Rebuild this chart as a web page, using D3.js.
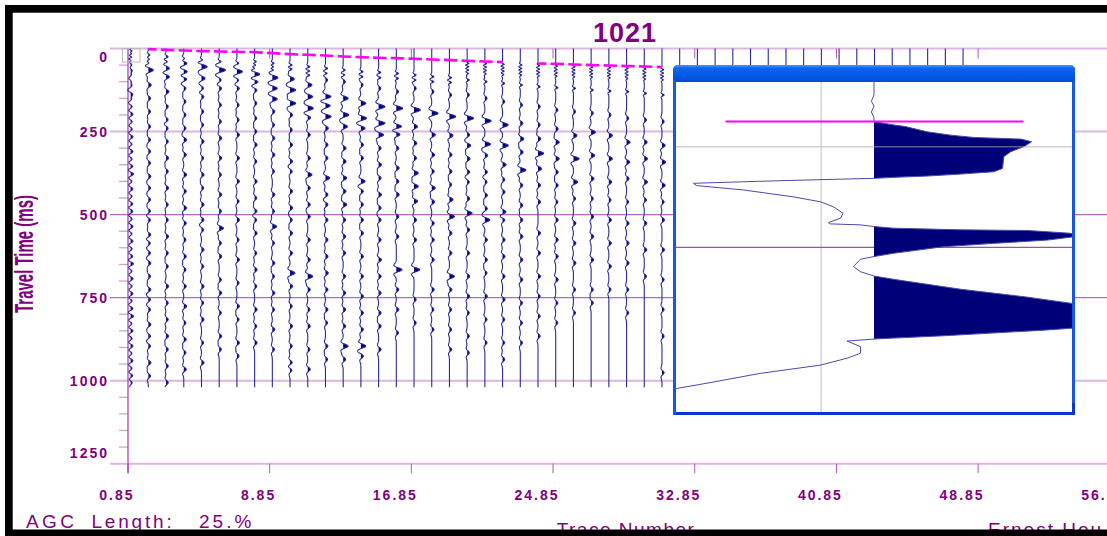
<!DOCTYPE html>
<html lang="en">
<head>
<meta charset="UTF-8">
<title>1021</title>
<style>
body {
  margin: 0;
  background: #fff;
}
svg text {
  font-family: 'Liberation Sans', Arial, sans-serif;
  fill: #800080;
}
.tick-label {
  font-size: 14px;
  font-weight: bold;
  letter-spacing: 2px;
}
.title {
  font-size: 27px;
  font-weight: bold;
  letter-spacing: 1px;
}
.axis-title {
  font-size: 15px;
  font-weight: bold;
}
.footer {
  font-size: 19px;
}
</style>
</head>
<body>
<svg id="chart" width="1107" height="536"></svg>

<script src="https://cdnjs.cloudflare.com/ajax/libs/d3/7.8.5/d3.min.js"></script>
<script>

// axis ticks
var timeTicks = [0, 250, 500, 750, 1000, 1250];
var traceTicks = [0.85, 8.85, 16.85, 24.85, 32.85, 40.85, 48.85, 56.85];
var traceCount = 48;
var traceEnd = 1020;

// first-break picks (ms) for traces 1..31, null = no pick
var pickTimes = [null, 2, 4, 6, 8, 9, 10, 11, 14, 17, 19, 21, 24, 26, 28, 29, 31, 33, 35, 37,
  39, 41, null, 45, 46, 48, 50, 51, 53, 54, 56];

// positive lobes: [time ms, amplitude, optional width]
var traceLobes = [
  [[8,0.3,0.5],[16,0.3,0.5],[26,0.3,0.5],[36,0.3,0.5],[50,0.4],[66,0.6],[80,0.5],[98,0.4],[112,0.4],[138,0.5],[152,0.4],[175,0.3],[198,0.4],[220,0.3],[243,0.3],[266,0.4],[288,0.3],[310,0.4],[333,0.3],[355,0.4],[378,0.5],[400,0.3],[423,0.4],[445,0.3],[468,0.4],[490,0.4],[513,0.3],[536,0.4],[558,0.3],[580,0.4],[603,0.3],[626,0.4],[648,0.5],[670,0.3],[693,0.4],[716,0.3],[738,0.4],[760,0.3],[783,0.4],[806,0.5],[828,0.3],[850,0.4],[873,0.3],[896,0.4],[918,0.3],[940,0.4],[963,0.3],[985,0.4],[1005,0.3]],
  [[20,0.25,0.6],[32,0.25,0.6],[44,0.25,0.6],[65,0.7],[110,0.4],[150,0.3],[190,0.3],[235,0.3],[275,0.3],[310,0.3],[345,0.3],[385,0.35],[420,0.3],[455,0.3],[490,0.3],[516,0.3],[561,0.35],[586,0.3],[616,0.3],[646,0.35],[686,0.3],[726,0.35],[756,0.3],[786,0.3],[831,0.35],[866,0.3],[896,0.3],[946,0.35],[986,0.3]],
  [[25,0.3,0.6],[40,0.3,0.6],[60,0.5],[85,0.5],[130,0.4],[175,0.3],[215,0.3],[240,0.3],[280,0.3],[330,0.35],[370,0.3],[420,0.35],[470,0.3],[516,0.3],[566,0.35],[616,0.3],[656,0.3],[716,0.35],[766,0.3],[816,0.3],[866,0.35],[906,0.3],[956,0.3],[1006,0.3]],
  [[30,0.3,0.6],[45,0.5],[70,0.6],[92,0.5],[120,0.3],[160,0.3],[200,0.3],[240,0.3],[275,0.4],[320,0.35],[380,0.4],[430,0.35],[480,0.4],[526,0.35],[576,0.3],[626,0.35],[666,0.3],[716,0.35],[776,0.4],[826,0.3],[876,0.35],[916,0.3],[966,0.35]],
  [[35,0.3,0.6],[55,0.8],[90,0.5],[120,0.3],[145,0.35],[190,0.3],[230,0.3],[280,0.35],[330,0.3],[380,0.35],[420,0.3],[470,0.35],[516,0.35],[546,0.3],[606,0.35],[656,0.3],[716,0.35],[766,0.3],[816,0.35],[886,0.3],[946,0.35]],
  [[40,0.3,0.6],[65,0.9],[95,0.3],[120,0.35],[170,0.3],[220,0.3],[270,0.35],[330,0.35],[380,0.3],[440,0.35],[490,0.3],[541,0.6],[586,0.3],[626,0.35],[696,0.3],[736,0.35],[796,0.3],[866,0.35],[906,0.3]],
  [[45,0.3,0.6],[70,0.8],[95,0.3],[120,0.35],[170,0.3],[215,0.3],[260,0.35],[330,0.35],[400,0.35],[460,0.3],[516,0.35],[576,0.3],[636,0.35],[706,0.3],[776,0.35],[816,0.3],[886,0.35],[926,0.3]],
  [[40,0.3,0.5],[50,0.3,0.5],[60,0.3,0.5],[78,0.8],[100,0.6],[125,0.35],[165,0.3],[210,0.3],[250,0.3],[290,0.35],[340,0.3],[400,0.35],[450,0.3],[490,0.35],[516,0.3],[556,0.35],[616,0.3],[666,0.35],[716,0.3],[786,0.35],[836,0.3],[886,0.35]],
  [[45,0.3,0.5],[55,0.3,0.5],[65,0.3,0.5],[88,0.8],[120,0.7],[152,0.7],[190,0.35],[230,0.3],[270,0.35],[320,0.35],[370,0.3],[440,0.35],[490,0.3],[536,0.6],[586,0.3],[646,0.35],[686,0.3],[736,0.35],[786,0.3],[846,0.35],[906,0.3]],
  [[50,0.3,0.5],[62,0.3,0.5],[92,0.6],[125,0.8],[165,0.8],[200,0.35],[245,0.3],[290,0.35],[340,0.35],[370,0.3],[430,0.35],[480,0.35],[516,0.3],[556,0.35],[616,0.35],[676,0.7],[716,0.35],[776,0.3],[836,0.35],[896,0.3],[946,0.35],[968,0.3]],
  [[55,0.3,0.5],[68,0.3,0.5],[80,0.3,0.5],[110,0.6],[145,0.7],[180,0.8],[208,0.4],[260,0.35],[330,0.35],[380,0.6],[420,0.35],[470,0.35],[506,0.35],[576,0.35],[636,0.35],[686,0.7],[726,0.35],[786,0.3],[836,0.35],[906,0.3],[966,0.35]],
  [[60,0.3,0.5],[75,0.3,0.5],[95,0.3],[145,0.8],[172,0.7],[205,0.8],[240,0.4],[290,0.35],[330,0.35],[390,0.6],[440,0.35],[470,0.35],[516,0.35],[576,0.35],[626,0.35],[676,0.4],[726,0.35],[786,0.35],[826,0.3],[896,0.35],[936,0.3]],
  [[65,0.3,0.5],[80,0.3,0.5],[100,0.3],[150,0.7],[200,0.8],[235,0.6],[300,0.4],[340,0.4],[390,0.5],[430,0.4],[470,0.5],[516,0.35],[566,0.35],[616,0.35],[686,0.35],[736,0.35],[786,0.35],[836,0.35],[896,0.7],[936,0.35]],
  [[70,0.3,0.5],[85,0.3,0.5],[110,0.3],[165,0.7],[210,0.8],[240,0.6],[290,0.35],[330,0.35],[400,0.6],[430,0.35],[470,0.35],[516,0.35],[556,0.35],[626,0.35],[686,0.35],[746,0.35],[796,0.35],[846,0.35],[896,0.7],[926,0.35]],
  [[72,0.3,0.5],[88,0.3,0.5],[120,0.3],[175,0.9],[225,0.9],[260,0.7],[300,0.35],[350,0.4],[390,0.35],[440,0.4],[480,0.35],[516,0.35],[576,0.35],[636,0.4],[686,0.35],[736,0.35],[796,0.35],[836,0.35],[906,0.35]],
  [[75,0.3,0.5],[90,0.3,0.5],[130,0.3],[180,0.9],[235,0.8],[258,0.6],[300,0.35],[360,0.4],[400,0.35],[440,0.4],[506,0.35],[566,0.35],[666,0.8],[726,0.35],[786,0.35],[856,0.3]],
  [[80,0.3,0.5],[95,0.3,0.5],[120,0.3],[185,0.9],[235,0.5],[285,0.4],[330,0.35],[375,0.6],[415,0.6],[460,0.5],[516,0.35],[576,0.35],[666,0.8],[756,0.3],[826,0.3]],
  [[85,0.3,0.5],[100,0.3,0.5],[130,0.3],[195,0.9],[260,0.5],[320,0.4],[370,0.35],[420,0.5],[462,0.4],[526,0.35],[576,0.35],[636,0.35],[726,0.35],[786,0.3],[846,0.3]],
  [[88,0.3,0.5],[102,0.3,0.5],[140,0.3],[205,0.9],[262,0.5],[320,0.35],[370,0.35],[410,0.3],[455,0.5],[506,0.7],[556,0.35],[616,0.35],[686,0.7],[726,0.35],[786,0.3],[846,0.3],[906,0.3]],
  [[45,0.25,0.4],[55,0.25,0.4],[65,0.25,0.4],[75,0.2,0.4],[95,0.3,0.5],[140,0.3],[210,0.9],[260,0.35],[292,0.5],[332,0.4],[372,0.35],[402,0.3],[452,0.35],[496,0.7],[546,0.35],[616,0.35],[686,0.35],[746,0.35],[796,0.3],[866,0.3],[916,0.3]],
  [[46,0.25,0.4],[56,0.25,0.4],[66,0.25,0.4],[76,0.2,0.4],[100,0.3,0.5],[150,0.3],[218,0.9],[288,0.8],[322,0.4],[372,0.35],[402,0.3],[442,0.35],[482,0.35],[516,0.7],[576,0.35],[636,0.35],[676,0.3],[746,0.35],[816,0.3],[886,0.3]],
  [[48,0.25,0.4],[58,0.25,0.4],[68,0.25,0.4],[78,0.2,0.4],[105,0.3,0.5],[160,0.3],[230,0.8],[292,0.8],[350,0.5],[395,0.3],[432,0.35],[492,0.5],[516,0.35],[576,0.35],[626,0.35],[686,0.35],[756,0.35],[816,0.3],[886,0.3],[936,0.3]],
  [[50,0.25,0.4],[60,0.25,0.4],[70,0.25,0.4],[80,0.2,0.4],[110,0.3,0.5],[170,0.3],[225,0.35],[272,0.5],[312,0.4],[366,0.8],[412,0.35],[472,0.35],[516,0.35],[566,0.35],[636,0.35],[696,0.35],[766,0.3],[826,0.3],[886,0.3]],
  [[52,0.25,0.4],[62,0.25,0.4],[72,0.25,0.4],[82,0.2,0.4],[115,0.3,0.5],[175,0.3],[230,0.3],[272,0.4],[316,0.8],[362,0.5],[412,0.35],[462,0.35],[556,0.35],[616,0.35],[686,0.35],[746,0.3],[806,0.3],[866,0.3]],
  [[53,0.25,0.4],[63,0.25,0.4],[73,0.25,0.4],[83,0.2,0.4],[118,0.3,0.5],[185,0.3],[242,0.35],[282,0.5],[332,0.5],[372,0.35],[412,0.35],[462,0.3],[516,0.35],[576,0.35],[626,0.35],[696,0.35],[766,0.3],[826,0.3]],
  [[55,0.25,0.4],[65,0.25,0.4],[75,0.25,0.4],[85,0.2,0.4],[120,0.3,0.5],[190,0.3],[262,0.5],[332,0.8],[402,0.6],[452,0.3],[526,0.35],[586,0.35],[646,0.35],[726,0.3],[796,0.3]],
  [[56,0.25,0.4],[66,0.25,0.4],[76,0.25,0.4],[86,0.2,0.4],[125,0.3,0.5],[195,0.3],[252,0.6],[322,0.5],[392,0.4],[452,0.3],[506,0.35],[566,0.35],[636,0.35],[726,0.3],[766,0.3]],
  [[58,0.25,0.4],[68,0.25,0.4],[78,0.25,0.4],[88,0.2,0.4],[128,0.3,0.5],[200,0.3],[262,0.5],[332,0.5],[402,0.4],[456,0.3],[516,0.35],[586,0.35],[656,0.35],[726,0.3]],
  [[60,0.25,0.4],[70,0.25,0.4],[80,0.25,0.4],[90,0.2,0.4],[130,0.3,0.5],[210,0.3],[282,0.5],[342,0.45],[392,0.35],[462,0.3],[526,0.35],[586,0.35],[646,0.35],[726,0.3],[796,0.3]],
  [[62,0.25,0.4],[72,0.25,0.4],[82,0.25,0.4],[92,0.2,0.4],[135,0.3,0.5],[215,0.3],[282,0.4],[332,0.45],[402,0.45],[456,0.3],[526,0.35],[606,0.35],[686,0.3]],
  [[64,0.25,0.4],[74,0.25,0.4],[84,0.25,0.4],[94,0.2,0.4],[140,0.3,0.5],[220,0.3],[292,0.45],[342,0.5],[412,0.45],[462,0.3],[516,0.35],[606,0.35],[696,0.3],[786,0.3],[866,0.3],[976,0.3]]
];

// zoomed single trace shown in the inset window
var insetTimes = [0, 3.9, 5.8, 7.3, 9.1, 10.8, 12.0, 13.0, 13.5, 15.1, 16.1, 16.8, 17.3, 18.1, 19.6,
  21.1, 22.6, 26.2, 27.2, 27.9, 28.5, 28.9, 29.2, 29.5, 30.2, 30.7, 31.4, 32.7, 34.8, 36.3, 37.8,
  39.8, 41.3, 42.6, 43.0, 43.3, 43.8, 44.3, 44.8, 45.0, 45.8, 46.6, 47.9, 48.9, 49.9, 51.9, 52.9,
  53.7, 55.9, 57.5, 58.8, 59.8, 62.8, 65.2, 67.1, 70.5, 74.6, 75.2, 76.9, 77.6, 77.9, 78.5, 80.2,
  82.2, 83.7, 85.8, 88.3, 91.1, 92.8, 94.0];
var insetAmps = [0, 0, -0.013, 0, -0.013, 0, 0, 0.099, 0.159, 0.269, 0.387, 0.504, 0.742, 0.796, 0.757,
  0.691, 0.656, 0.649, 0.605, 0.438, 0.269, 0.099, 0, -0.212, -0.642, -0.912, -0.895, -0.661, -0.408, -0.271, -0.205,
  -0.156, -0.170, -0.230, -0.220, -0.068, 0, 0.099, 0.438, 0.776, 0.985, 1.05, 0.877, 0.605, 0.352, 0.099, 0,
  -0.068, -0.104, -0.068, 0, 0.099, 0.438, 0.776, 1.0, 1.15, 1.0, 0.858, 0.352, 0.099, 0, -0.136, -0.068,
  -0.068, -0.136, -0.271, -0.575, -0.828, -0.99, -1.04];
var insetPickTime = 12.0;
var insetPickSpan = [-0.75, 0.755];
var insetGridAmp = -0.267;
var insetGridTimes = [19.6, 50.1];


var width = 1107;
var height = 536;

var svg = d3.select('#chart');

var y = d3.scaleLinear().domain([0, 1250]).range([48.5, 463.7]);
var x = d3.scaleLinear().domain([0.85, 56.85]).range([128, 1119.8]);
var amp = d3.scaleLinear().domain([0, 1]).range([0, 7]);

svg.append('rect')
.attr('width', width)
.attr('height', height)
.attr('fill', '#fff');

// grid lines at the major times
var grid = svg.append('g');
grid.selectAll('line')
.data(timeTicks)
.enter()
.append('line')
.attr('x1', 110)
.attr('x2', width)
.attr('y1', function (d) {return y(d);})
.attr('y2', function (d) {return y(d);})
.attr('stroke', function (d) {return (d === 500 || d === 750) ? '#b36bb8' : '#ddb6df';})
.attr('stroke-width', function (d) {return (d === 500 || d === 750) ? 1.2 : 2;});

// minor ticks left of the time axis
svg.append('g')
.selectAll('line')
.data(y.ticks(25).filter(function (d) {return d % 250 !== 0;}))
.enter()
.append('line')
.attr('x1', 119)
.attr('x2', x(0.85))
.attr('y1', function (d) {return y(d);})
.attr('y2', function (d) {return y(d);})
.attr('stroke', '#cf9ad2')
.attr('stroke-width', 1.2);

// trace number ticks, top and bottom
svg.append('g')
.selectAll('line')
.data(traceTicks.slice(1))
.enter()
.append('line')
.attr('x1', function (d) {return x(d);})
.attr('x2', function (d) {return x(d);})
.attr('y1', y(0))
.attr('y2', y(0) + 10)
.attr('stroke', '#b055b5');

svg.append('g')
.selectAll('line')
.data(traceTicks)
.enter()
.append('line')
.attr('x1', function (d) {return x(d);})
.attr('x2', function (d) {return x(d);})
.attr('y1', y(1250))
.attr('y2', y(1250) + 9.5)
.attr('stroke', '#b055b5');

svg.append('line')
.attr('x1', x(0.85))
.attr('x2', x(0.85))
.attr('y1', y(0))
.attr('y2', y(1250) + 9.5)
.attr('stroke', '#a23aa8')
.attr('stroke-width', 1.2);

// wiggle traces
function traceSamples(lobes) {
  var pts = [];
  for (var t = 0; t <= traceEnd; t += 1) {
    var v = 0;
    lobes.forEach(function (l) {
      var w = l[2] || 1;
      var u = Math.PI * 28 * (t - l[0]) / 1000 / w;
      var u2 = u * u;
      if (u2 < 40) v += l[1] * (1 - 2 * u2) * Math.exp(-u2);
    });
    pts.push([t, v]);
  }
  return pts;
}

var traces = svg.append('g');
d3.range(1, traceCount + 1).forEach(function (n) {
  var xt = x(n);
  var lobes = traceLobes[n - 1] || [];
  var pts = traceSamples(lobes);

  var area = d3.area()
  .y(function (p) {return y(p[0]);})
  .x0(xt)
  .x1(function (p) {return xt + Math.max(0, amp(p[1]));});

  var line = d3.line()
  .x(function (p) {return xt + amp(p[1]);})
  .y(function (p) {return y(p[0]);});

  traces.append('path')
  .attr('d', area(pts))
  .attr('fill', '#000080');

  traces.append('path')
  .attr('d', line(pts))
  .attr('fill', 'none')
  .attr('stroke', '#2a2a98')
  .attr('stroke-width', 1.1);
});

// first break picks
var pickLine = d3.line()
.defined(function (d) {return d.t !== null;})
.x(function (d) {return x(d.n);})
.y(function (d) {return y(d.t);});

svg.append('path')
.attr('d', pickLine(pickTimes.map(function (t, i) {return {n: i + 1, t: t};})))
.attr('fill', 'none')
.attr('stroke', '#ff00ff')
.attr('stroke-width', 2.6)
.attr('stroke-dasharray', '13.5,4.2')
.attr('stroke-dashoffset', 5.2);

// selection box on the first trace
svg.append('rect')
.attr('x', x(1) - 8.2)
.attr('y', y(0))
.attr('width', 17.5)
.attr('height', 13.5)
.attr('fill', 'none')
.attr('stroke', '#b8b8b8');

// inset window
var defs = svg.append('defs');
var grad = defs.append('linearGradient')
.attr('id', 'bar')
.attr('x1', 0).attr('y1', 0).attr('x2', 0).attr('y2', 1);
grad.append('stop').attr('offset', '0%').attr('stop-color', '#4f93f7');
grad.append('stop').attr('offset', '20%').attr('stop-color', '#0d63ea');
grad.append('stop').attr('offset', '75%').attr('stop-color', '#0055e5');
grad.append('stop').attr('offset', '100%').attr('stop-color', '#0a45d2');

var box = {x: 673, y: 65, w: 402, h: 350, bar: 17, border: 3};
var inner = {x: box.x + box.border, y: box.y + box.bar, w: box.w - 2 * box.border, h: box.h - box.bar - box.border};

defs.append('clipPath')
.attr('id', 'insetClip')
.append('rect')
.attr('x', inner.x)
.attr('y', inner.y)
.attr('width', inner.w)
.attr('height', inner.h);

var inset = svg.append('g');
inset.append('rect')
.attr('x', box.x).attr('y', box.y)
.attr('width', box.w).attr('height', box.h)
.attr('rx', 5)
.attr('fill', '#1a56e4');
inset.append('rect')
.attr('x', box.x).attr('y', box.y + box.h - 12)
.attr('width', box.w).attr('height', 12)
.attr('fill', '#0c36cc');
inset.append('rect')
.attr('x', box.x).attr('y', box.y + box.h - 12)
.attr('width', box.border).attr('height', 12)
.attr('fill', '#1a56e4');
inset.append('rect')
.attr('x', box.x).attr('y', box.y)
.attr('width', box.w).attr('height', box.bar)
.attr('rx', 5)
.attr('fill', 'url(#bar)');
inset.append('rect')
.attr('x', inner.x).attr('y', inner.y)
.attr('width', inner.w).attr('height', inner.h)
.attr('fill', '#fff');

var iy = d3.scaleLinear().domain([0, 100]).range([inner.y, inner.y + 330]);
var ix = d3.scaleLinear().domain([-1, 1]).range([inner.x, inner.x + inner.w]);

var plot = inset.append('g').attr('clip-path', 'url(#insetClip)');

plot.append('line')
.attr('x1', ix(insetGridAmp)).attr('x2', ix(insetGridAmp))
.attr('y1', inner.y).attr('y2', inner.y + inner.h)
.attr('stroke', '#d6d6d6')
.attr('stroke-width', 1.5);

plot.append('line')
.attr('x1', inner.x).attr('x2', inner.x + inner.w)
.attr('y1', iy(insetGridTimes[1])).attr('y2', iy(insetGridTimes[1]))
.attr('stroke', '#8c5c96')
.attr('stroke-width', 1.2);

var insetPts = insetTimes.map(function (t, i) {return [t, insetAmps[i]];});

plot.append('path')
.attr('d', d3.area()
  .y(function (p) {return iy(p[0]);})
  .x0(ix(0))
  .x1(function (p) {return ix(Math.max(0, p[1]));})(insetPts))
.attr('fill', '#000078');

plot.append('path')
.attr('d', d3.line()
  .x(function (p) {return ix(p[1]);})
  .y(function (p) {return iy(p[0]);})(insetPts))
.attr('fill', 'none')
.attr('stroke', '#4a4aaa')
.attr('stroke-width', 1);

plot.append('line')
.attr('x1', inner.x).attr('x2', inner.x + inner.w)
.attr('y1', iy(insetGridTimes[0])).attr('y2', iy(insetGridTimes[0]))
.attr('stroke', '#aaaaaa')
.attr('stroke-opacity', 0.55)
.attr('stroke-width', 1.5);

plot.append('line')
.attr('x1', ix(insetPickSpan[0])).attr('x2', ix(insetPickSpan[1]))
.attr('y1', iy(insetPickTime)).attr('y2', iy(insetPickTime))
.attr('stroke', '#ff00ff')
.attr('stroke-width', 2);

// labels
svg.append('text')
.attr('class', 'title')
.attr('x', 625)
.attr('y', 41.5)
.attr('text-anchor', 'middle')
.text('1021');

svg.append('g')
.selectAll('text')
.data(timeTicks)
.enter()
.append('text')
.attr('class', 'tick-label')
.attr('x', 109)
.attr('y', function (d) {return Math.min(Math.max(y(d), y(0) + 8.5), y(1250) - 10.4) + 5;})
.attr('text-anchor', 'end')
.text(function (d) {return d;});

svg.append('g')
.selectAll('text')
.data(traceTicks)
.enter()
.append('text')
.attr('class', 'tick-label')
.attr('x', function (d) {return x(d) + 6.5;})
.attr('y', 499.5)
.attr('text-anchor', 'end')
.text(function (d) {return d.toFixed(2);});

svg.append('text')
.attr('class', 'axis-title')
.attr('text-anchor', 'middle')
.attr('transform', 'translate(33,254) rotate(-90) scale(1,1.75)')
.text('Travel Time (ms)');

svg.append('text').attr('class', 'footer').attr('x', 26).attr('y', 528)
.style('letter-spacing', '3.4px').text('AGC');
svg.append('text').attr('class', 'footer').attr('x', 91.5).attr('y', 528)
.style('letter-spacing', '2.8px').text('Length:');
svg.append('text').attr('class', 'footer').attr('x', 199).attr('y', 528)
.style('letter-spacing', '3px').text('25.%');
svg.append('text').attr('class', 'footer').attr('x', 626).attr('y', 536)
.attr('text-anchor', 'middle')
.style('letter-spacing', '1.5px').text('Trace Number');
svg.append('text').attr('class', 'footer').attr('x', 988).attr('y', 536)
.style('letter-spacing', '2px').text('Ernest Hou');

// black frame
svg.append('rect').attr('x', 5).attr('y', 5).attr('width', width - 5).attr('height', 7.7).attr('fill', '#000');
svg.append('rect').attr('x', 5).attr('y', 5).attr('width', 7.7).attr('height', height - 5).attr('fill', '#000');
svg.append('rect').attr('x', 5).attr('y', 529.5).attr('width', width - 5).attr('height', 7).attr('fill', '#000');

</script>
</body>
</html>
